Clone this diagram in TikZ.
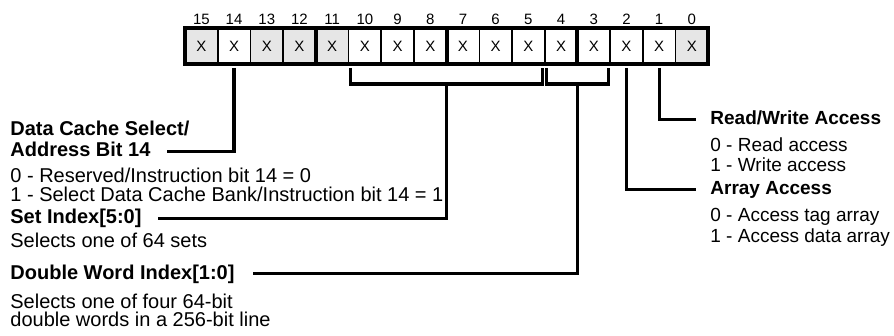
\documentclass[tikz,border=0pt]{standalone}
\usepackage{fontspec}
\setmainfont{Liberation Sans}
\usepackage{xcolor}
\usepackage{tikz}
\usetikzlibrary{calc}

\definecolor{cellgray}{HTML}{E6E6E6}

\begin{document}
\begin{tikzpicture}[x=0.5pt, y=-0.5pt,
    cell/.style={draw, line width=0.8pt, minimum width=16.35pt, minimum height=18pt,
                 inner sep=0pt, outer sep=0pt, font=\fontsize{7.5}{9}\selectfont},
    bitnum/.style={inner sep=0pt, font=\fontsize{7.5}{9}\selectfont},
    head/.style={anchor=base west, inner sep=0pt, font=\fontsize{10}{12}\selectfont\bfseries},
    desc/.style={anchor=base west, inner sep=0pt, font=\fontsize{10}{12}\selectfont},
    rhead/.style={head, font=\fontsize{9.5}{11}\selectfont\bfseries},
    rdesc/.style={desc, font=\fontsize{9.5}{11}\selectfont},
    conn/.style={line width=1.6pt}]
    \useasboundingbox (0,0) rectangle (894,336);

    % register cells, bit 15 on the left
    \foreach \b in {0,...,15} {
        \def\cellfill{white}
        \ifnum \b>10 \ifnum \b=14 \else \def\cellfill{cellgray} \fi \fi
        \ifnum \b=0 \def\cellfill{cellgray} \fi
        \node[cell, fill=\cellfill] (b\b) at ({185+(15-\b)*32.7+16.35},46) {X};
        \node[bitnum] (n\b) at ({185+(15-\b)*32.7+16.35},19) {\b};
    }
    \draw[line width=2pt] (b15.north west) rectangle (b0.south east);
    \foreach \b in {12,8,4}
        \draw[line width=2pt] (b\b.north east) -- (b\b.south east);

    % left texts
    \node[head] (hdA1) at (10,135.5) {Data Cache Select/};
    \node[head] (hdA2) at (10,156.5) {Address Bit 14};
    \node[desc] (dA1) at (10,183) {0 - Reserved/Instruction bit 14 = 0};
    \node[desc] (dA2) at (10,202) {1 - Select Data Cache Bank/Instruction bit 14 = 1};
    \node[head] (hdB) at (10,224) {Set Index[5:0]};
    \node[desc] (dB) at (10,248) {Selects one of 64 sets};
    \node[head] (hdC) at (10,279) {Double Word Index[1:0]};
    \node[desc] (dC1) at (10,308) {Selects one of four 64-bit};
    \node[desc] (dC2) at (10,327) {double words in a 256-bit line};

    % right texts
    \node[rhead] (hdD) at (710,125) {Read/Write Access};
    \node[rdesc] (dD1) at (710,152) {0 - Read access};
    \node[rdesc] (dD2) at (710,172) {1 - Write access};
    \node[rhead] (hdE) at (710,195) {Array Access};
    \node[rdesc] (dE1) at (710,222) {0 - Access tag array};
    \node[rdesc] (dE2) at (710,243) {1 - Access data array};

    % brackets under the index fields
    \draw[conn] ($(b10.south west)+(2,4)$) |- ($(b5.south east)+(-2,20)$) -- ++(0,-16);
    \draw[conn] ($(b4.south west)+(2,4)$) |- ($(b3.south east)+(-2,20)$) -- ++(0,-16);
    \coordinate (setmid) at ($(b10.south west)!0.5!(b5.south east)+(0,20)$);
    \coordinate (dwmid) at ($(b4.south west)!0.5!(b3.south east)+(0,20)$);

    % connectors
    \draw[conn, shorten <=2pt, shorten >=8pt] (b14.south) |- (hdA2.mid east);
    \draw[conn, shorten >=8pt] (setmid) |- (hdB.mid east);
    \draw[conn, shorten >=9pt] (dwmid) |- (hdC.mid east);
    \draw[conn, shorten <=2pt, shorten >=7pt] (b2.south) |- (hdE.mid west);
    \draw[conn, shorten <=2pt, shorten >=7pt] (b1.south) |- (hdD.mid west);
\end{tikzpicture}
\end{document}
